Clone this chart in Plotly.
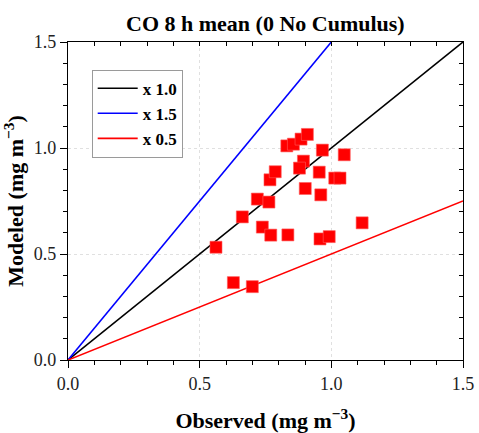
import plotly.graph_objects as go

# Observed vs modeled CO 8 h mean concentrations (mg m-3)
observed = [0.562, 0.628, 0.700, 0.662, 0.719, 0.763, 0.738, 0.770, 0.835,
            0.767, 0.787, 0.831, 0.856, 0.885, 0.909, 0.894, 0.879, 0.901,
            0.954, 0.966, 0.960, 1.013, 1.033, 1.049, 0.957, 0.992, 1.117]
modeled = [0.532, 0.365, 0.346, 0.675, 0.759, 0.745, 0.627, 0.589, 0.590,
           0.850, 0.888, 1.010, 1.018, 1.042, 1.064, 0.938, 0.905, 0.809,
           0.886, 0.990, 0.779, 0.858, 0.858, 0.968, 0.571, 0.582, 0.647]

# Reference ratio lines
ratio_names = ["x 1.0", "x 1.5", "x 0.5"]
ratio_factors = [1.0, 1.5, 0.5]
ratio_colors = ["#000000", "#0000ff", "#ff0000"]
axis_max = 1.5

tick_vals = [0.0, 0.5, 1.0, 1.5]
tick_text = ["0.0", "0.5", "1.0", "1.5"]

FONT = "Liberation Serif"

fig = go.Figure()

for name, k, col in zip(ratio_names, ratio_factors, ratio_colors):
    x_end = min(axis_max, axis_max / k)
    fig.add_trace(go.Scatter(
        x=[0.0, x_end], y=[0.0, k * x_end], mode="lines",
        name=f"<b>{name}</b>",
        line=dict(color=col, width=1.6),
    ))

fig.add_trace(go.Scatter(
    x=observed, y=modeled, mode="markers", showlegend=False,
    marker=dict(symbol="square", size=12, color="#ff0000",
                line=dict(color="#ff5a5a", width=0.6)),
))

# Invisible trace carrying the mirrored top/right axes (inward ticks)
fig.add_trace(go.Scatter(x=[None], y=[None], xaxis="x2", yaxis="y2",
                         showlegend=False, hoverinfo="skip"))

common = dict(
    range=[0, axis_max], tickvals=tick_vals, ticktext=tick_text,
    showline=True, linecolor="black", linewidth=1.3,
    zeroline=False, tickcolor="black", tickwidth=1.3, automargin=False,
    tickfont=dict(family=FONT, size=18, color="#222"),
)

fig.update_layout(
    width=479, height=433,
    margin=dict(l=68, r=16, t=42, b=73),
    paper_bgcolor="white", plot_bgcolor="white",
    title=dict(text="<b>CO 8 h mean (0 No Cumulus)</b>",
               font=dict(family=FONT, size=22, color="black"),
               x=0.554, xanchor="center", y=0.946, yanchor="middle",
               yref="container", automargin=False),
    xaxis=dict(**common, ticks="outside", ticklen=7,
               showgrid=True, gridcolor="#e0e0e0", griddash="dot", gridwidth=1,
               minor=dict(dtick=0.1, ticks="outside", ticklen=4,
                          tickcolor="black", tickwidth=1.2, showgrid=False),
               title=dict(text="<b>Observed (mg m<sup>\u22123</sup>)</b>",
                          font=dict(family=FONT, size=22, color="black"),
                          standoff=25)),
    yaxis=dict(**common, ticks="outside", ticklen=7,
               showgrid=True, gridcolor="#e0e0e0", griddash="dot", gridwidth=1,
               minor=dict(dtick=0.1, ticks="outside", ticklen=4,
                          tickcolor="black", tickwidth=1.2, showgrid=False),
               title=dict(text="<b>Modeled (mg m<sup>\u22123</sup>)</b>",
                          font=dict(family=FONT, size=22, color="black"),
                          standoff=12)),
    xaxis2=dict(range=[0, axis_max], overlaying="x", side="top",
                showline=True, linecolor="black", linewidth=1.3,
                ticks="inside", ticklen=4, tickcolor="black", tickwidth=1.2,
                dtick=0.1, tick0=0, showticklabels=False, showgrid=False,
                zeroline=False, automargin=False),
    yaxis2=dict(range=[0, axis_max], overlaying="y", side="right",
                showline=True, linecolor="black", linewidth=1.3,
                ticks="inside", ticklen=4, tickcolor="black", tickwidth=1.2,
                dtick=0.1, tick0=0, showticklabels=False, showgrid=False,
                zeroline=False, automargin=False),
    legend=dict(x=0.06, y=0.913, xanchor="left", yanchor="top",
                bgcolor="white", bordercolor="#9a9a9a", borderwidth=1,
                font=dict(family=FONT, size=17, color="black"),
                tracegroupgap=0, itemwidth=40),
    showlegend=True,
)

fig.write_html("out.html")
